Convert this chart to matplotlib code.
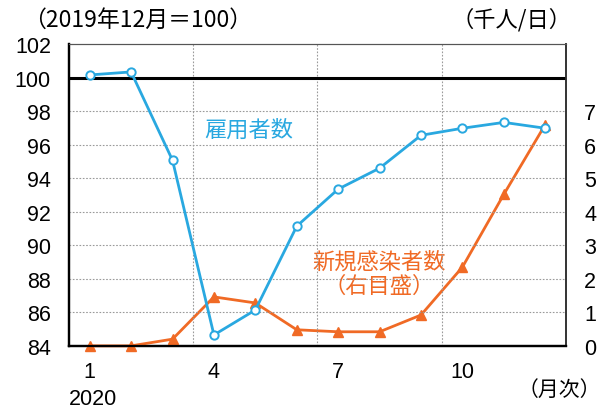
import matplotlib
matplotlib.use("Agg")
import matplotlib.pyplot as plt

plt.rcParams['font.family'] = ['Liberation Sans', 'Noto Sans CJK JP', 'DejaVu Sans']

months = list(range(1, 13))
employment = [100.16, 100.34, 95.07, 84.65, 86.14, 91.14, 93.35, 94.6, 96.56, 96.98, 97.33, 96.98]
new_cases = [0.0, 0.0, 0.2, 1.46, 1.28, 0.48, 0.42, 0.42, 0.92, 2.35, 4.52, 6.6]

left_ticks = [84, 86, 88, 90, 92, 94, 96, 98, 100, 102]
right_ticks = [0, 1, 2, 3, 4, 5, 6, 7]
x_ticks = [1, 4, 7, 10]
x_tick_labels = ["1", "4", "7", "10"]

BLUE = "#29a8e0"
ORANGE = "#f06a25"
GRID = "#9a9a9a"
CJK = ['Noto Sans CJK JP', 'DejaVu Sans']

fig = plt.figure(figsize=(6.05, 4.10), dpi=100)
ax = fig.add_axes([0.114, 0.154, 0.8215, 0.736])
ax2 = ax.twinx()

ax.set_xlim(0.5, 12.5)
ax.set_ylim(84, 102)
ax2.set_ylim(0, 9)

# grid
for y in left_ticks[1:-1]:
    if y != 100:
        ax.axhline(y, color=GRID, lw=0.8, ls=(0, (1.5, 1.5)), zorder=1)
for x in [3.5, 6.5, 9.5]:
    ax.axvline(x, color=GRID, lw=0.8, ls=(0, (1.5, 1.5)), zorder=1)
ax.axhline(100, color="black", lw=2.2, zorder=2)

ax.plot(months, employment, color=BLUE, lw=2.0, marker="o", ms=6,
        mfc="white", mec=BLUE, mew=1.4, zorder=4, clip_on=False)
ax2.plot(months, new_cases, color=ORANGE, lw=2.0, marker="^", ms=7,
         mfc=ORANGE, mec=ORANGE, zorder=4, clip_on=False)

ax.set_yticks(left_ticks)
ax.set_yticklabels([str(v) for v in left_ticks])
ax2.set_yticks(right_ticks)
ax2.set_yticklabels([str(v) for v in right_ticks])
ax.set_xticks(x_ticks)
ax.set_xticklabels(x_tick_labels)

ax.tick_params(axis="y", length=0, pad=13, labelsize=15.5)
ax.tick_params(axis="x", length=0, pad=11, labelsize=15.5)
ax2.tick_params(axis="y", length=0, pad=13, labelsize=15.5)

for a in (ax, ax2):
    a.spines["top"].set_color("#555555")
    a.spines["top"].set_linewidth(0.8)
    a.spines["left"].set_linewidth(1.6)
    a.spines["bottom"].set_linewidth(1.6)
    a.spines["right"].set_color("#333333")
    a.spines["right"].set_linewidth(1.2)

ax.set_zorder(ax2.get_zorder() + 1)
ax.patch.set_visible(False)

ax.text(4.83, 96.9, "雇用者数", color=BLUE, fontsize=16, ha="center", va="center",
        family=CJK)
ax2.text(8.0, 2.53, "新規感染者数", color=ORANGE, fontsize=16, ha="center", va="center",
         family=CJK)
ax2.text(8.0, 1.79, "（右目盛）", color=ORANGE, fontsize=16, ha="center", va="center",
         family=CJK)

fig.text(0.227, 0.951, "（2019年12月＝100）", fontsize=16.5, ha="center", va="center",
         family=CJK)
fig.text(0.846, 0.951, "（千人/日）", fontsize=16, ha="center", va="center",
         family=CJK)
fig.text(0.994, 0.049, "（月次）", fontsize=15, ha="right", va="center",
         family=CJK)
fig.text(0.153, 0.025, "2020", fontsize=15.5, ha="center", va="center")

fig.savefig("out.png", dpi=100)
